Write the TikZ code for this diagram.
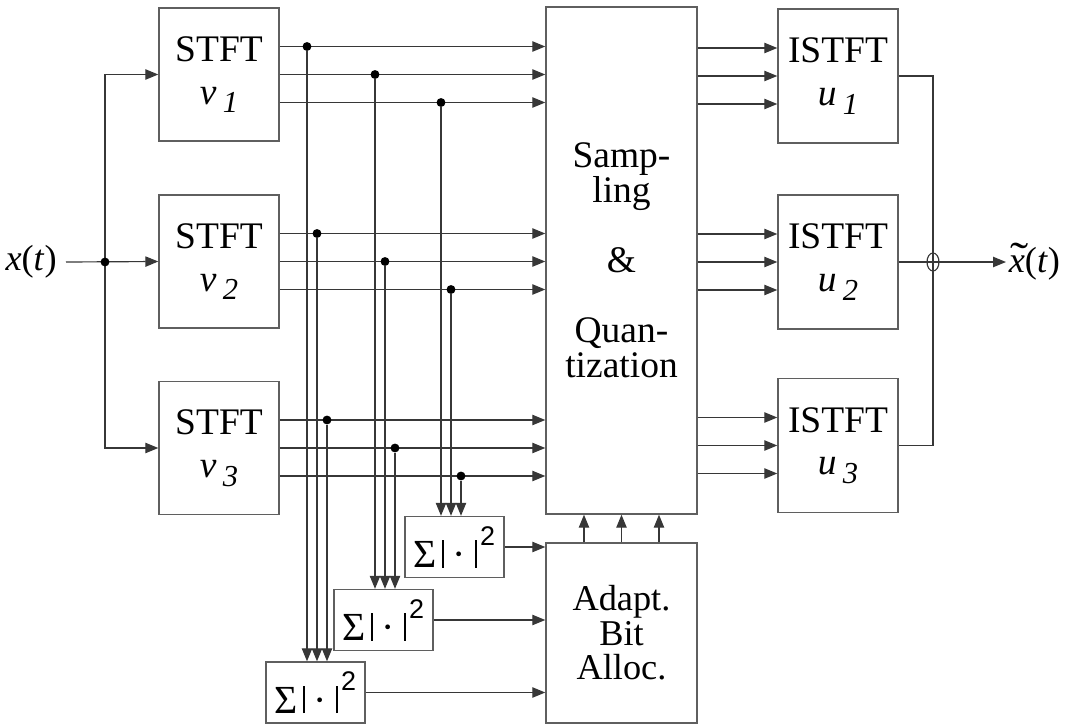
\documentclass[tikz,border=0pt]{standalone}
\usepackage{fontspec}
\setmainfont{Liberation Serif}
\setsansfont{Liberation Sans}
\usepackage{tikz}
\usetikzlibrary{arrows.meta,positioning,calc,shapes.geometric}
\definecolor{boxgray}{RGB}{95,95,95}
\definecolor{wiregray}{RGB}{55,55,55}

\newcommand{\idx}[2]{\textit{#1}\,\raisebox{-0.5ex}{\fontsize{13}{13}\selectfont\textit{#2}}}
\newcommand{\vbar}{\rule{0.9pt}{0.68em}}
\newcommand{\pwr}{{\fontsize{17}{17}\selectfont Σ\hspace{0.12em}\vbar\hspace{0.22em}·\hspace{0.22em}\vbar\hspace{0.08em}\raisebox{0.56em}{\sffamily\fontsize{11.5}{11.5}\selectfont 2}}}
\newcommand{\tildex}{\makebox[0pt][l]{\hspace{0.04em}\scalebox{1.5}[1.2]{\char"02DC}}\textit{x}}

\begin{document}
\begin{tikzpicture}[x=0.015cm, y=-0.015cm,
    blk/.style={draw=boxgray, line width=0.6pt, inner sep=0pt, align=center,
                font=\fontsize{16}{18.3}\selectfont},
    wire/.style={draw=wiregray, line width=0.5pt},
    arr/.style={wire, -{Triangle[length=5.5pt, width=4.4pt]}},
    tap/.style={circle, fill=black, inner sep=0pt, minimum size=3.8pt}]
  \useasboundingbox (0,0) rectangle (1069,724);

  % analysis and synthesis banks
  \foreach \i/\y in {1/74.5, 2/261.5, 3/448}{
    \node[blk, minimum width=1.8cm, minimum height=2.0cm]
      (stft\i) at (219,\y) {STFT\\\idx{v}{\i}};
  }
  \foreach \i/\y in {1/76, 2/262, 3/445.5}{
    \node[blk, minimum width=1.8cm, minimum height=2.01cm]
      (istft\i) at (838,\y) {ISTFT\\\idx{u}{\i}};
  }
  \node[blk, minimum width=2.265cm, minimum height=7.605cm,
        font=\fontsize{16}{14.9}\selectfont]
    (samp) at (621.5,260.5) {Samp-\\ling\\[14.9pt]\&\\[14.9pt]Quan-\\tization};
  \node[blk, minimum width=2.265cm, minimum height=2.7cm,
        font=\fontsize{15.5}{14.7}\selectfont]
    (alloc) at (621.5,633) {Adapt.\\Bit\\Alloc.};
  \foreach \k/\x/\y in {1/315.5/692.5, 2/383.5/620, 3/454.5/547}{
    \node[blk, minimum width=1.485cm, minimum height=0.915cm]
      (pow\k) at (\x,\y) {\pwr};
    \draw[arr] (pow\k.east) -- (pow\k.east -| alloc.west);
  }

  % input
  \node[font=\fontsize{15.5}{15.5}\selectfont, inner sep=3.8pt, anchor=east]
    (xin) at (66,262) {\textit{x}(\textit{t})};
  \coordinate (split) at (105,262);
  \draw[arr] (xin.east) -- (stft2.west);
  \draw[arr] (split) |- (stft1.west);
  \draw[arr] (split) |- (stft3.west);
  \node[tap] at (split) {};

  % subbands, taps to the energy blocks
  \foreach \i in {1,2,3}{
    \foreach \k/\tx in {1/307, 2/375, 3/441}{
      \pgfmathsetmacro{\px}{\tx+10*(\i-1)}
      \coordinate (c\i\k) at (\px,0);
      \coordinate (o\i\k) at ($(stft\i.east)+(0,{(\k-2)*28})$);
      \draw[arr] (o\i\k) -- (o\i\k -| samp.west);
      \node[tap] (t\i\k) at (o\i\k -| c\i\k) {};
      \draw[arr] (t\i\k) -- (t\i\k |- pow\k.north);
    }
  }

  % quantized subbands
  \foreach \i in {1,2,3}{
    \foreach \k in {1,2,3}{
      \coordinate (in\i\k) at ($(istft\i.west)+(0,{(\k-2)*28})$);
      \draw[arr] (in\i\k -| samp.east) -- (in\i\k);
    }
  }

  % bit allocation
  \foreach \d in {-37.5,0,37.5}{
    \draw[arr] ($(alloc.north)+(\d,0)$) -- ($(samp.south)+(\d,0)$);
  }

  % output
  \node[draw=wiregray, ellipse, line width=0.5pt, inner sep=0pt,
        minimum width=0.18cm, minimum height=0.27cm] (add) at (933,262) {};
  \node[font=\fontsize{15.5}{15.5}\selectfont, inner sep=1pt, anchor=west]
    (xout) at (1006,262) {\tildex(\textit{t})};
  \draw[wire] (istft1.east) -| (add.center) |- (istft3.east);
  \draw[arr] (istft2.east) -- (xout.west);
\end{tikzpicture}
\end{document}
